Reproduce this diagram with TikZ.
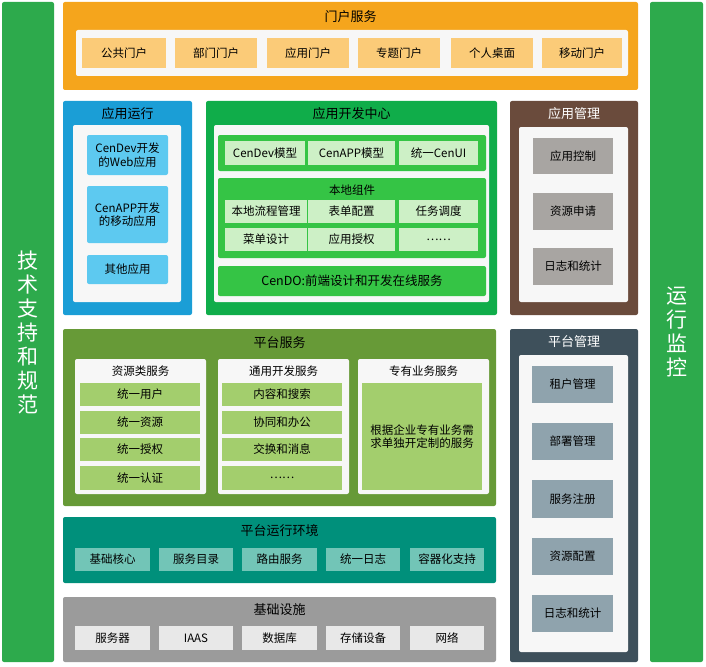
\documentclass[tikz,border=0pt]{standalone}
\usepackage{fontspec}
\setmainfont{Noto Sans CJK SC}
\usetikzlibrary{positioning}
\definecolor{sidegreen}{HTML}{2DAA4C}
\definecolor{portalor}{HTML}{F5A51C}
\definecolor{portalit}{HTML}{FBCB78}
\definecolor{runblue}{HTML}{1B9ED6}
\definecolor{runit}{HTML}{5DC9F0}
\definecolor{devgreen}{HTML}{10AD4A}
\definecolor{devgrp}{HTML}{35C445}
\definecolor{devit}{HTML}{CDF0C6}
\definecolor{mgrbrown}{HTML}{6A4B3C}
\definecolor{mgrit}{HTML}{A8A5A2}
\definecolor{psgreen}{HTML}{679A37}
\definecolor{psit}{HTML}{A3CE6D}
\definecolor{pmslate}{HTML}{3E505B}
\definecolor{pmit}{HTML}{8FA3AD}
\definecolor{envteal}{HTML}{00907B}
\definecolor{envit}{HTML}{72C5B7}
\definecolor{infgray}{HTML}{9B9B9B}
\definecolor{infit}{HTML}{E8E8E8}
\definecolor{panel}{HTML}{F7F7F7}
\newcommand{\bx}[7]{\node[#1, anchor=north west, minimum width={#5pt-#3pt}, minimum height={#6pt-#4pt}] (#2) at (#3,#4) {#7};}
\tikzset{
  base/.style={inner sep=0pt, outer sep=0pt, align=center, font=\fontsize{11.5}{13.5}\selectfont},
  layer/.style={base, rounded corners=2pt},
  paneltitle/.style={font=\fontsize{13}{15}\selectfont},
  subtitle/.style={font=\fontsize{11.5}{13}\selectfont},
  whitepanel/.style={base, fill=panel, rounded corners=2pt},
  item/.style={base, fill=#1},
  sidetext/.style={text=white, align=center, font=\fontsize{21}{24}\selectfont}
}
\begin{document}
\begin{tikzpicture}[x=1pt, y=-1pt]
\useasboundingbox (0,0) rectangle (706,666);
% side bars
\bx{layer, fill=sidegreen}{techbar}{2}{2}{54}{662}{}
\node[sidetext] (techtxt) at (techbar.center) {技\\术\\支\\持\\和\\规\\范};
\bx{layer, fill=sidegreen}{monbar}{650}{2}{703}{662}{}
\node[sidetext] (montxt) at (monbar.center) {运\\行\\监\\控};

% portal services
\bx{layer, fill=portalor}{portal}{63}{2}{638}{90}{}
\node[paneltitle, below=5pt of portal.north] (portaltitle) {门户服务};
\bx{whitepanel}{portalpanel}{76}{30}{628}{76}{}
\bx{item=portalit}{pp1}{82}{38}{166}{68}{公共门户}
\bx{item=portalit}{pp2}{175}{38}{257}{68}{部门门户}
\bx{item=portalit}{pp3}{267}{38}{349}{68}{应用门户}
\bx{item=portalit}{pp4}{358}{38}{440}{68}{专题门户}
\bx{item=portalit}{pp5}{451}{38}{533}{68}{个人桌面}
\bx{item=portalit}{pp6}{542}{38}{622}{68}{移动门户}

% application runtime
\bx{layer, fill=runblue}{apprun}{63}{101}{192}{315}{}
\node[paneltitle, below=3pt of apprun.north] (apprunttl) {应用运行};
\bx{whitepanel}{apprunpanel}{73}{125}{181}{302}{}
\bx{item=runit, rounded corners=2pt}{ar1}{87}{135}{168}{175}{CenDev开发\\的Web应用}
\bx{item=runit, rounded corners=2pt}{ar2}{87}{186}{168}{243}{CenAPP开发\\的移动应用}
\bx{item=runit, rounded corners=2pt}{ar3}{87}{255}{168}{284}{其他应用}

% application development center
\bx{layer, fill=devgreen}{appdev}{206}{101}{497}{315}{}
\node[paneltitle, below=3pt of appdev.north] (appdevttl) {应用开发中心};
\bx{whitepanel}{appdevpanel}{214}{125}{489}{302}{}
\bx{item=devgrp, rounded corners=2pt}{devrow}{218}{135}{486}{171}{}
\bx{item=devit}{dm1}{225}{141}{305}{165}{CenDev模型}
\bx{item=devit}{dm2}{308}{141}{395}{165}{CenAPP模型}
\bx{item=devit}{dm3}{399}{141}{478}{165}{统一CenUI}
\bx{item=devgrp, rounded corners=2pt}{localgrp}{218}{178}{486}{258}{}
\node[subtitle, below=3pt of localgrp.north] (localttl) {本地组件};
\bx{item=devit}{lc1}{225}{200}{307}{223}{本地流程管理}
\bx{item=devit}{lc2}{308}{200}{395}{223}{表单配置}
\bx{item=devit}{lc3}{399}{200}{478}{223}{任务调度}
\bx{item=devit}{lc4}{225}{228}{307}{251}{菜单设计}
\bx{item=devit}{lc5}{308}{228}{395}{251}{应用授权}
\bx{item=devit}{lc6}{399}{228}{478}{251}{……}
\bx{item=devgrp, rounded corners=2pt, font=\fontsize{12.5}{14}\selectfont}{cendo}{218}{266}{486}{296}{CenDO:前端设计和开发在线服务}

% application management
\bx{layer, fill=mgrbrown}{appmgr}{510}{101}{638}{315}{}
\node[paneltitle, text=white, below=3pt of appmgr.north] (appmgrttl) {应用管理};
\bx{whitepanel}{appmgrpanel}{519}{127}{628}{302}{}
\bx{item=mgrit}{am1}{533}{138}{613}{174}{应用控制}
\bx{item=mgrit}{am2}{533}{193}{613}{230}{资源申请}
\bx{item=mgrit}{am3}{533}{248}{613}{285}{日志和统计}

% platform services
\bx{layer, fill=psgreen}{platsvc}{63}{329}{496}{506}{}
\node[paneltitle, below=4pt of platsvc.north] (platsvcttl) {平台服务};
\bx{whitepanel}{respanel}{75}{359}{206}{494}{}
\bx{whitepanel}{genpanel}{218}{359}{349}{494}{}
\bx{whitepanel}{spcpanel}{358}{359}{489}{494}{}
\node[subtitle, below=3pt of respanel.north] (resttl) {资源类服务};
\node[subtitle, below=3pt of genpanel.north] (genttl) {通用开发服务};
\node[subtitle, below=3pt of spcpanel.north] (spcttl) {专有业务服务};
\bx{item=psit}{rs1}{80}{383}{200}{406}{统一用户}
\bx{item=psit}{rs2}{80}{411}{200}{434}{统一资源}
\bx{item=psit}{rs3}{80}{438}{200}{461}{统一授权}
\bx{item=psit}{rs4}{80}{466}{200}{490}{统一认证}
\bx{item=psit}{gs1}{222}{383}{342}{406}{内容和搜索}
\bx{item=psit}{gs2}{222}{411}{342}{434}{协同和办公}
\bx{item=psit}{gs3}{222}{438}{342}{461}{交换和消息}
\bx{item=psit}{gs4}{222}{466}{342}{490}{……}
\bx{item=psit}{ss1}{362}{383}{482}{490}{根据企业专有业务需\\求单独开定制的服务}

% platform management
\bx{layer, fill=pmslate}{platmgr}{510}{329}{638}{662}{}
\node[paneltitle, text=white, below=3pt of platmgr.north] (platmgrttl) {平台管理};
\bx{whitepanel}{platmgrpanel}{519}{355}{628}{652}{}
\bx{item=pmit}{pm1}{532}{366}{613}{403}{租户管理}
\bx{item=pmit}{pm2}{532}{423}{613}{460}{部署管理}
\bx{item=pmit}{pm3}{532}{480}{613}{518}{服务注册}
\bx{item=pmit}{pm4}{532}{538}{613}{575}{资源配置}
\bx{item=pmit}{pm5}{532}{595}{613}{632}{日志和统计}

% platform runtime environment
\bx{layer, fill=envteal}{platenv}{63}{517}{496}{583}{}
\node[paneltitle, below=4pt of platenv.north] (platenvttl) {平台运行环境};
\bx{item=envit}{pe1}{75}{548}{150}{571}{基础核心}
\bx{item=envit}{pe2}{159}{548}{233}{571}{服务目录}
\bx{item=envit}{pe3}{242}{548}{317}{571}{路由服务}
\bx{item=envit}{pe4}{326}{548}{400}{571}{统一日志}
\bx{item=envit}{pe5}{410}{548}{484}{571}{容器化支持}

% infrastructure
\bx{layer, fill=infgray}{infra}{63}{597}{496}{662}{}
\node[paneltitle, below=3pt of infra.north] (infrattl) {基础设施};
\bx{item=infit}{in1}{75}{626}{150}{650}{服务器}
\bx{item=infit}{in2}{159}{626}{233}{650}{IAAS}
\bx{item=infit}{in3}{242}{626}{317}{650}{数据库}
\bx{item=infit}{in4}{326}{626}{400}{650}{存储设备}
\bx{item=infit}{in5}{410}{626}{484}{650}{网络}
\end{tikzpicture}
\end{document}
